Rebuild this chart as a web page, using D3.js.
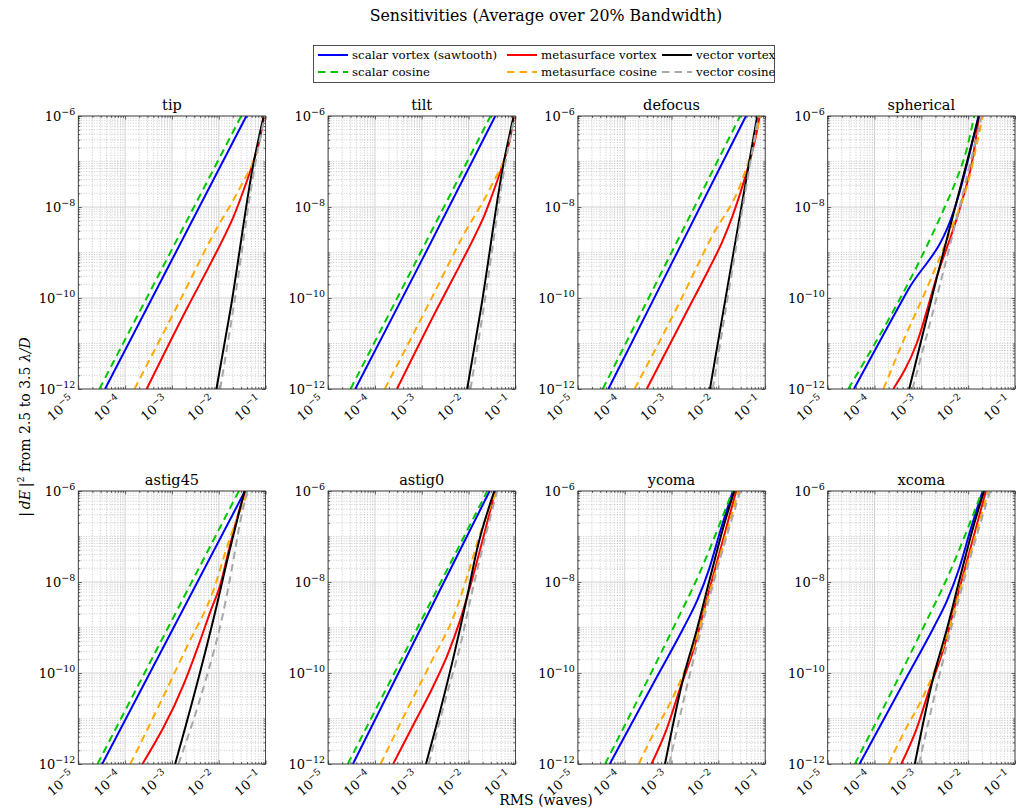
<!DOCTYPE html>
<html><head><meta charset="utf-8">
<script src="https://cdn.jsdelivr.net/npm/d3@7"></script>
<style>
body{margin:0;background:#fff}
svg{display:block}
text{font-family:"DejaVu Serif","Liberation Serif",serif;fill:#000}
</style>
</head><body><svg id="c" width="1018" height="810"></svg>
<script>
// ---------------- DATA ----------------
const panelNames = ["tip","tilt","defocus","spherical","astig45","astig0","ycoma","xcoma"];
const seriesNames = ["scalar vortex (sawtooth)","scalar cosine","metasurface vortex","metasurface cosine","vector vortex","vector cosine"];
const xTickValues = [1e-5,1e-4,1e-3,1e-2,1e-1];
const xTickExps = ["5","4","3","2","1"];
const yTickValues = [1e-12,1e-10,1e-8,1e-6];
const yTickExps = ["12","10","8","6"];

// each series: panel -> [[RMS waves, |dE|^2], ...]
const scalarVortex = {
  tip:[[3.72e-5,1e-12],[1e-3,6.9e-10],[3.89e-2,1e-6]],
  tilt:[[3.8e-5,1e-12],[1e-3,6.7e-10],[3.72e-2,1e-6]],
  defocus:[[4.47e-5,1e-12],[1e-3,5.7e-10],[3.89e-2,1e-6]],
  spherical:[[3.63e-5,1e-12],[5.01e-4,1.41e-10],[5.25e-3,1e-8],[7.08e-3,2.82e-8],[1e-2,1.12e-7],[1.66e-2,1e-6]],
  astig45:[[3.24e-5,1e-12],[1e-3,8.5e-10],[3.63e-2,1e-6]],
  astig0:[[3.39e-5,1e-12],[1e-3,1.05e-9],[2.82e-2,1e-6]],
  ycoma:[[4.79e-5,1e-12],[5.01e-4,8.7e-11],[1.82e-3,1e-9],[3.55e-3,3.98e-9],[6.31e-3,1.9e-8],[1.12e-2,1.41e-7],[2.04e-2,1e-6]],
  xcoma:[[4.79e-5,1e-12],[5.01e-4,8.6e-11],[1.82e-3,9.9e-10],[3.55e-3,3.95e-9],[6.31e-3,1.88e-8],[1.12e-2,1.4e-7],[2.04e-2,1e-6]]
};
const scalarCosine = {
  tip:[[2.82e-5,1e-12],[1e-3,1.17e-9],[3.02e-2,1e-6]],
  tilt:[[3.02e-5,1e-12],[1e-3,1.12e-9],[2.95e-2,1e-6]],
  defocus:[[3.39e-5,1e-12],[1e-3,1.0e-9],[2.92e-2,1e-6]],
  spherical:[[2.75e-5,1e-12],[3.16e-3,1e-8],[5.62e-3,3.98e-8],[8.91e-3,1.585e-7],[1.35e-2,1e-6]],
  astig45:[[2.57e-5,1e-12],[1e-3,1.45e-9],[2.69e-2,1e-6]],
  astig0:[[2.63e-5,1e-12],[1e-3,1.5e-9],[2.51e-2,1e-6]],
  ycoma:[[3.8e-5,1e-12],[1.1e-3,1e-9],[3.98e-3,1.585e-8],[1e-2,1.585e-7],[2.0e-2,1e-6]],
  xcoma:[[3.8e-5,1e-12],[1.1e-3,1e-9],[3.98e-3,1.585e-8],[1e-2,1.585e-7],[2.0e-2,1e-6]]
};
const metasurfaceVortex = {
  tip:[[2.88e-4,1e-12],[2.09e-3,5.9e-11],[6.17e-3,4.9e-10],[1.38e-2,2.51e-9],[2.09e-2,6.31e-9],[2.88e-2,1.48e-8],[4.07e-2,3.98e-8],[5.62e-2,1.07e-7],[7.76e-2,3.55e-7],[9.23e-2,1e-6]],
  tilt:[[2.95e-4,1e-12],[2.14e-3,5.9e-11],[6.3e-3,4.9e-10],[1.41e-2,2.51e-9],[2.14e-2,6.31e-9],[2.95e-2,1.48e-8],[4.17e-2,3.98e-8],[5.75e-2,1.07e-7],[7.8e-2,3.4e-7],[9.3e-2,1e-6]],
  defocus:[[2.95e-4,1e-12],[2.29e-3,5.9e-11],[6.17e-3,4.17e-10],[1.26e-2,1.9e-9],[2.0e-2,6.31e-9],[2.82e-2,1.78e-8],[3.98e-2,5.62e-8],[5.25e-2,1.585e-7],[6.61e-2,4.47e-7],[7.59e-2,1e-6]],
  spherical:[[2.51e-4,1e-12],[7.94e-4,1e-11],[2.14e-3,2.95e-10],[6.76e-3,1e-8],[1.29e-2,1.41e-7],[1.7e-2,1e-6]],
  astig45:[[2.34e-4,1e-12],[1.78e-3,5.62e-11],[3.72e-3,4.17e-10],[6.61e-3,2.24e-9],[1.07e-2,8.51e-9],[1.74e-2,6.46e-8],[2.82e-2,4.17e-7],[3.72e-2,1e-6]],
  astig0:[[2.45e-4,1e-12],[6.31e-4,6.6e-12],[1.78e-3,5.25e-11],[3.55e-3,2.51e-10],[6.31e-3,1.26e-9],[1.26e-2,1.41e-8],[2.24e-2,1.32e-7],[3.72e-2,1e-6]],
  ycoma:[[3.72e-4,1e-12],[7.94e-4,6e-12],[1.51e-3,4.5e-11],[2.95e-3,3.24e-10],[5.62e-3,4.07e-9],[1.1e-2,5.13e-8],[2.4e-2,1e-6]],
  xcoma:[[3.72e-4,1e-12],[7.94e-4,6e-12],[1.51e-3,4.6e-11],[2.95e-3,3.3e-10],[5.62e-3,4.1e-9],[1.1e-2,5.2e-8],[2.4e-2,1e-6]]
};
const metasurfaceCosine = {
  tip:[[1.585e-4,1e-12],[1.51e-3,9.1e-11],[7.24e-3,2.24e-9],[3.16e-2,3.31e-8],[6.17e-2,1.51e-7],[9.12e-2,1e-6]],
  tilt:[[1.62e-4,1e-12],[1.55e-3,9e-11],[7.4e-3,2.2e-9],[3.2e-2,3.2e-8],[6.2e-2,1.5e-7],[9.2e-2,1e-6]],
  defocus:[[1.62e-4,1e-12],[1.51e-3,8.3e-11],[7.24e-3,2.24e-9],[2.92e-2,3.02e-8],[5.19e-2,1.78e-7],[7.82e-2,1e-6]],
  spherical:[[1.55e-4,1e-12],[4.17e-4,1.17e-11],[1.55e-3,2.45e-10],[4.79e-3,4.27e-9],[9.33e-3,2.75e-8],[2.04e-2,1e-6]],
  astig45:[[1.29e-4,1e-12],[5.62e-4,2.19e-11],[2.09e-3,3.8e-10],[7.76e-3,6.76e-9],[1.51e-2,6.03e-8],[2.88e-2,3.8e-7],[4.37e-2,1e-6]],
  astig0:[[1.32e-4,1e-12],[4.9e-4,1.58e-11],[1.82e-3,2.29e-10],[4.79e-3,1.74e-9],[9.33e-3,1.32e-8],[1.78e-2,1.17e-7],[3.98e-2,1e-6]],
  ycoma:[[2.0e-4,1e-12],[4.17e-4,4.79e-12],[9.33e-4,2.19e-11],[1.82e-3,1e-10],[3.47e-3,6.31e-10],[6.76e-3,6.76e-9],[1.29e-2,7.08e-8],[2.69e-2,1e-6]],
  xcoma:[[2.0e-4,1e-12],[4.17e-4,4.79e-12],[9.33e-4,2.19e-11],[1.82e-3,1e-10],[3.47e-3,6.4e-10],[6.76e-3,6.9e-9],[1.29e-2,7.2e-8],[2.69e-2,1e-6]]
};
const vectorVortex = {
  tip:[[8.91e-3,1e-12],[1.78e-2,5.62e-11],[5.62e-2,1e-7],[9.12e-2,1e-6]],
  tilt:[[9.33e-3,1e-12],[1.82e-2,5.5e-11],[5.7e-2,1e-7],[9.2e-2,1e-6]],
  defocus:[[6.61e-3,1e-12],[1.29e-2,5.5e-11],[6.76e-2,1e-6]],
  spherical:[[5.5e-4,1e-12],[2.14e-3,2.82e-10],[1.7e-2,1e-6]],
  astig45:[[1.17e-3,1e-12],[3.39e-3,5.5e-11],[9.12e-3,3.16e-9],[1.38e-2,2.0e-8],[3.55e-2,1e-6]],
  astig0:[[1.23e-3,1e-12],[2.51e-3,1.55e-11],[4.79e-3,2.29e-10],[9.33e-3,4.79e-9],[1.51e-2,5.13e-8],[3.55e-2,1e-6]],
  ycoma:[[7.24e-4,1e-12],[1.82e-3,8.51e-11],[3.47e-3,8.91e-10],[6.76e-3,1.32e-8],[1.29e-2,1.66e-7],[2.19e-2,1e-6]],
  xcoma:[[7.24e-4,1e-12],[1.82e-3,8.4e-11],[3.47e-3,8.8e-10],[6.76e-3,1.3e-8],[1.29e-2,1.64e-7],[2.19e-2,1e-6]]
};
const vectorCosine = {
  tip:[[1.07e-2,1e-12],[2.0e-2,5.0e-11],[5.89e-2,7.94e-8],[9.55e-2,1e-6]],
  tilt:[[1.1e-2,1e-12],[2.04e-2,5e-11],[5.95e-2,7.9e-8],[9.6e-2,1e-6]],
  defocus:[[7.59e-3,1e-12],[1.41e-2,5e-11],[7.08e-2,1e-6]],
  spherical:[[6.46e-4,1e-12],[2.51e-3,2.0e-10],[1.95e-2,1e-6]],
  astig45:[[1.38e-3,1e-12],[5.13e-3,6.46e-11],[1.17e-2,1.58e-9],[1.91e-2,2.0e-8],[2.88e-2,2.14e-7],[4.07e-2,1e-6]],
  astig0:[[1.41e-3,1e-12],[3.16e-3,2.5e-11],[6.3e-3,3.2e-10],[1.26e-2,7.9e-9],[4.07e-2,1e-6]],
  ycoma:[[8.91e-4,1e-12],[2.24e-3,6.31e-11],[7.94e-3,1e-8],[2.95e-2,1e-6]],
  xcoma:[[8.91e-4,1e-12],[2.24e-3,6.31e-11],[7.94e-3,1e-8],[2.95e-2,1e-6]]
};

// ---------------- STYLE ----------------
const seriesData = [scalarVortex, scalarCosine, metasurfaceVortex, metasurfaceCosine, vectorVortex, vectorCosine];
const seriesColors = ["#0000ff","#00c800","#ff0000","#ffaa00","#000000","#a8a8a8"];
const seriesDashed = [false,true,false,true,false,true];

const svg = d3.select("#c");
const axW = 187.3, axH = 273;
const colX = c => 78.3 + c*249.8;
const rowY = [116, 491];

const xMinor = [], yMinor = [];
for (let d=-5; d<=-2; d++) for (let k=2;k<=9;k++) xMinor.push(k*Math.pow(10,d));
for (let d=-12; d<=-7; d++) for (let k=1;k<=9;k++) { const v=k*Math.pow(10,d); if (k>1 || d%2!==0) yMinor.push(v); }

function addPow(t, exp, base, sup){
  t.append("tspan").attr("font-size",base).text("10");
  t.append("tspan").attr("font-size",sup).attr("dy",-base*0.45).text("\u2212"+exp);
}

panelNames.forEach((name,i)=>{
  const col=i%4,row=Math.floor(i/4);
  const g = svg.append("g").attr("transform",`translate(${colX(col)},${rowY[row]})`);
  const x = d3.scaleLog().domain([1e-5,1e-1]).range([0,axW]);
  const y = d3.scaleLog().domain([1e-12,1e-6]).range([axH,0]);

  g.append("clipPath").attr("id","clip"+i).append("rect").attr("width",axW).attr("height",axH);
  g.append("rect").attr("width",axW).attr("height",axH).attr("fill","#fff");

  // minor grid
  const mg = g.append("g").attr("stroke","#a8a8a8").attr("stroke-width",0.6).attr("stroke-dasharray","1,1.6");
  mg.selectAll("line.vx").data(xMinor).join("line").attr("class","vx")
    .attr("x1",d=>x(d)).attr("x2",d=>x(d)).attr("y1",0).attr("y2",axH);
  mg.selectAll("line.hy").data(yMinor).join("line").attr("class","hy")
    .attr("y1",d=>y(d)).attr("y2",d=>y(d)).attr("x1",0).attr("x2",axW);
  // major grid
  const Mg = g.append("g").attr("stroke","#d2d2d2").attr("stroke-width",1);
  Mg.selectAll("line.vx").data(xTickValues).join("line").attr("class","vx")
    .attr("x1",d=>x(d)).attr("x2",d=>x(d)).attr("y1",0).attr("y2",axH);
  Mg.selectAll("line.hy").data(yTickValues).join("line").attr("class","hy")
    .attr("y1",d=>y(d)).attr("y2",d=>y(d)).attr("x1",0).attr("x2",axW);

  // ticks (inside, all four sides)
  const tickStyle = s => { s.select(".domain").remove(); s.selectAll("line").attr("stroke","#262626").attr("stroke-width",0.7); s.selectAll("text").remove(); };
  g.append("g").attr("transform",`translate(0,${axH})`).call(d3.axisBottom(x).tickValues(xTickValues).tickSize(-3.5).tickFormat("")).call(tickStyle);
  g.append("g").call(d3.axisTop(x).tickValues(xTickValues).tickSize(-3.5).tickFormat("")).call(tickStyle);
  g.append("g").attr("transform",`translate(0,${axH})`).call(d3.axisBottom(x).tickValues(xMinor).tickSize(-2).tickFormat("")).call(tickStyle);
  g.append("g").call(d3.axisTop(x).tickValues(xMinor).tickSize(-2).tickFormat("")).call(tickStyle);
  g.append("g").call(d3.axisLeft(y).tickValues(yTickValues).tickSize(-3.5).tickFormat("")).call(tickStyle);
  g.append("g").attr("transform",`translate(${axW},0)`).call(d3.axisRight(y).tickValues(yTickValues).tickSize(-3.5).tickFormat("")).call(tickStyle);
  g.append("g").call(d3.axisLeft(y).tickValues(yMinor).tickSize(-2).tickFormat("")).call(tickStyle);
  g.append("g").attr("transform",`translate(${axW},0)`).call(d3.axisRight(y).tickValues(yMinor).tickSize(-2).tickFormat("")).call(tickStyle);

  // data lines
  const line = d3.line().x(d=>x(d[0])).y(d=>y(d[1])).curve(d3.curveMonotoneX);
  const lg = g.append("g").attr("clip-path",`url(#clip${i})`);
  seriesData.forEach((s,k)=>{
    lg.append("path").datum(s[name]).attr("d",line).attr("fill","none")
      .attr("stroke",seriesColors[k]).attr("stroke-width",2)
      .attr("stroke-dasharray",seriesDashed[k]?"7.5,5":null);
  });

  // box
  g.append("rect").attr("width",axW).attr("height",axH).attr("fill","none").attr("stroke","#262626").attr("stroke-width",0.8);

  // tick labels
  yTickValues.forEach((v,j)=>{
    const t = g.append("text").attr("x",-3).attr("y",y(v)+5).attr("text-anchor","end").attr("fill","#262626");
    addPow(t, yTickExps[j], 13, 9.5);
  });
  xTickValues.forEach((v,j)=>{
    const t = g.append("text").attr("text-anchor","end").attr("fill","#262626")
      .attr("transform",`translate(${x(v)-3},${axH+13}) rotate(-40)`);
    addPow(t, xTickExps[j], 13, 9.5);
  });

  // subplot title
  g.append("text").attr("x",axW/2).attr("y",-6).attr("text-anchor","middle").attr("font-size",14.5).text(name);
});

// super title
svg.append("text").attr("x",546).attr("y",21).attr("text-anchor","middle").attr("font-size",15.8)
  .text("Sensitivities (Average over 20% Bandwidth)");

// legend
const leg = svg.append("g");
leg.append("rect").attr("x",313.5).attr("y",45.5).attr("width",461).attr("height",37).attr("fill","#fff").attr("stroke","#262626").attr("stroke-width",0.8);
const legCols = [318, 507, 662];
const legRows = [55, 72];
seriesNames.forEach((nm,k)=>{
  const c = Math.floor(k/2), r = k%2;
  const lx = legCols[c], ly = legRows[r];
  leg.append("line").attr("x1",lx).attr("x2",lx+30).attr("y1",ly).attr("y2",ly)
    .attr("stroke",seriesColors[k]).attr("stroke-width",2).attr("stroke-dasharray",seriesDashed[k]?"7.5,5":null);
  leg.append("text").attr("x",lx+34).attr("y",ly+4).attr("font-size",11.8).text(nm);
});

// axis labels
const yl = svg.append("text").attr("transform","translate(30,427) rotate(-90)").attr("text-anchor","middle").attr("font-size",14);
yl.append("tspan").text("|\u2009");
yl.append("tspan").attr("font-style","italic").text("dE");
yl.append("tspan").text("\u2009|");
yl.append("tspan").attr("font-size",9.5).attr("dy",-6).text("2");
yl.append("tspan").attr("dy",6).text(" from 2.5 to 3.5 ");
yl.append("tspan").attr("font-style","italic").text("\u03bb/D");

svg.append("text").attr("x",546).attr("y",805).attr("text-anchor","middle").attr("font-size",14).text("RMS (waves)");
</script></body></html>
